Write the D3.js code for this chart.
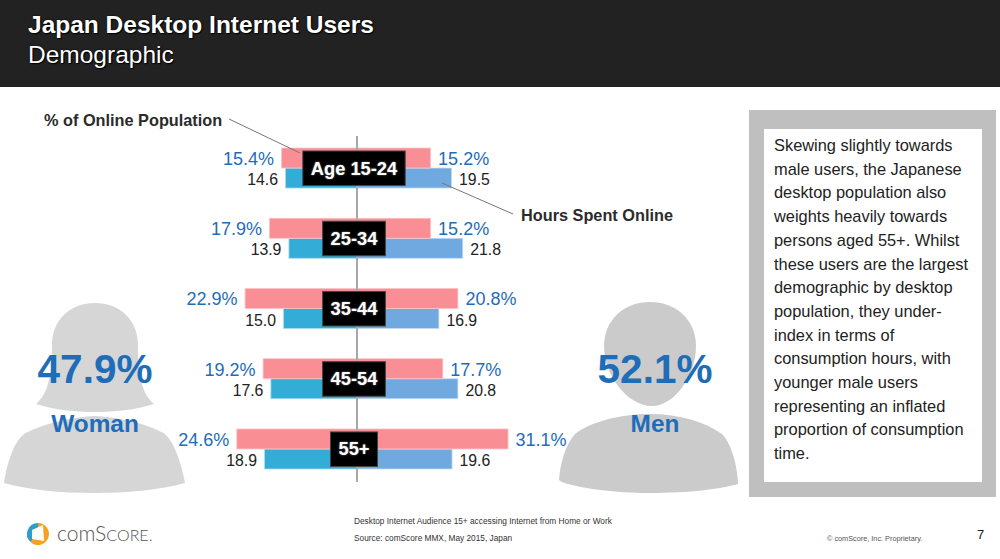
<!DOCTYPE html>
<html>
<head>
<meta charset="utf-8">
<script src="https://cdn.jsdelivr.net/npm/d3@7"></script>
<style>
  html, body { margin: 0; padding: 0; background: #fff; }
  svg { display: block; font-family: "Liberation Sans", Arial, sans-serif; }
</style>
</head>
<body>
<svg id="chart" width="1000" height="559"></svg>
<script>
const ageGroups = ["Age 15-24", "25-34", "35-44", "45-54", "55+"];
const womenShare = [15.4, 17.9, 22.9, 19.2, 24.6];
const menShare = [15.2, 15.2, 20.8, 17.7, 31.1];
const womenHours = [14.6, 13.9, 15.0, 17.6, 18.9];
const menHours = [19.5, 21.8, 16.9, 20.8, 19.6];
const totals = [
  { value: "47.9%", label: "Woman", x: 95 },
  { value: "52.1%", label: "Men", x: 655 }
];
const panelLines = [
  "Skewing slightly towards", "male users, the Japanese", "desktop population also",
  "weights heavily towards", "persons aged 55+. Whilst", "these users are the largest",
  "demographic by desktop", "population, they under-", "index in terms of",
  "consumption hours, with", "younger male users", "representing an inflated",
  "proportion of consumption", "time."
];

const svg = d3.select("#chart");
const mid = 356.6;
const barW = d3.scaleLinear().domain([0, 10]).range([0, 48.7]);
const y = d3.scaleBand().domain(ageGroups).range([148, 469]).paddingInner(0.43).paddingOuter(0);
const rowH = y.bandwidth() / 2;
const titleShadow = "0 0 2px #000, 1px 1px 1px #000";

// header
svg.append("rect").attr("width", 1000).attr("height", 87).attr("fill", "#222");
svg.append("text").attr("x", 28).attr("y", 33).attr("fill", "#fff")
  .style("font-size", "24.5px").style("font-weight", "bold")
  .style("text-shadow", titleShadow).text("Japan Desktop Internet Users");
svg.append("text").attr("x", 28).attr("y", 63).attr("fill", "#fff")
  .style("font-size", "24.5px")
  .style("text-shadow", titleShadow).text("Demographic");

// silhouettes
const people = svg.append("g").attr("class", "people");
people.append("path").attr("fill", "#d6d6d6")
  .attr("d", "M95,303C70,303 52,320 52,345C52,370 50,392 36,404C55,410 75,412 95,412C115,412 135,410 154,404C140,392 138,370 138,345C138,320 120,303 95,303Z");
people.append("path").attr("fill", "#d6d6d6")
  .attr("d", "M95,416C70,417 40,425 24,434C14,442 7,462 4,483C30,490 60,493 95,493C125,493 160,490 185,483C181,462 174,442 165,434C150,425 120,417 95,416Z");
people.append("path").attr("fill", "#cbcbcb")
  .attr("d", "M650,302C624,302 604,320 604,346C604,376 628,406 652,406C674,406 696,376 696,346C696,320 676,302 650,302Z");
people.append("path").attr("fill", "#cbcbcb")
  .attr("d", "M650,414C620,414 590,422 575,434C565,445 560,465 559,480C561,484 600,493 650,493C690,493 720,489 738,484C737,462 730,442 722,434C705,422 680,414 650,414Z");

const totalG = svg.append("g").selectAll("g").data(totals).join("g")
  .attr("text-anchor", "middle").attr("fill", "#1f6cb8").style("font-weight", "bold");
totalG.append("text").attr("x", d => d.x).attr("y", 383).style("font-size", "40.5px").text(d => d.value);
totalG.append("text").attr("x", d => d.x).attr("y", 432).style("font-size", "24.4px").text(d => d.label);

// bars
const bars = svg.append("g").attr("class", "bars");
const addBars = (values, side, top, fill, edge) => {
  bars.selectAll(null).data(values).join("rect")
    .attr("x", d => side < 0 ? mid - barW(d) : mid)
    .attr("y", (d, i) => y(ageGroups[i]) + (top ? 0 : rowH))
    .attr("width", d => barW(d))
    .attr("height", rowH)
    .attr("fill", fill)
    .attr("stroke", edge)
    .attr("stroke-width", 0.8);
};
addBars(womenHours, -1, false, "#33acd8", "#a9dcef");
addBars(menHours, 1, false, "#70a9e0", "#c4dcf3");
addBars(womenShare, -1, true, "#f98e95", "#fcc4c8");
addBars(menShare, 1, true, "#f98e95", "#fcc4c8");

svg.append("line").attr("x1", 357).attr("x2", 357).attr("y1", 136).attr("y2", 482)
  .attr("stroke", "#a8a8a8").attr("stroke-width", 2);

// value labels
const addLabels = (values, side, top, fmt, size, color) => {
  svg.append("g").selectAll("text").data(values).join("text")
    .attr("x", d => mid + side * (barW(d) + 7.5))
    .attr("y", (d, i) => y(ageGroups[i]) + (top ? 17 : rowH + 17))
    .attr("text-anchor", side < 0 ? "end" : "start")
    .attr("fill", color)
    .style("font-size", size)
    .text(fmt);
};
const pct = d => d.toFixed(1) + "%";
const hrs = d => d.toFixed(1);
addLabels(womenShare, -1, true, pct, "18px", "#1f6cb8");
addLabels(menShare, 1, true, pct, "18px", "#1f6cb8");
addLabels(womenHours, -1, false, hrs, "15.8px", "#222");
addLabels(menHours, 1, false, hrs, "15.8px", "#222");

// age tags, box sized off the text
const tags = svg.append("g").selectAll("g").data(ageGroups).join("g");
const tagRect = tags.append("rect").attr("fill", "#000").attr("stroke", "#444").attr("stroke-width", 1);
const tagText = tags.append("text")
  .attr("x", 354)
  .attr("y", d => y(d) + rowH + 6.5)
  .attr("text-anchor", "middle")
  .attr("fill", "#fff")
  .style("font-size", "18.3px")
  .style("font-weight", "bold")
  .style("text-shadow", "0 0 2px #888")
  .text(d => d);
tagRect.each(function (d, i) {
  const w = tagText.nodes()[i].getComputedTextLength() + 16;
  d3.select(this).attr("x", 354 - w / 2).attr("width", w)
    .attr("y", y(d) + 3).attr("height", 34.5);
});

// callouts
svg.append("line").attr("x1", 229).attr("y1", 119).attr("x2", 300).attr("y2", 153)
  .attr("stroke", "#777").attr("stroke-width", 1);
svg.append("line").attr("x1", 442).attr("y1", 183).attr("x2", 513).attr("y2", 214)
  .attr("stroke", "#777").attr("stroke-width", 1);
svg.append("text").attr("x", 44).attr("y", 126).attr("fill", "#2b2b2b")
  .style("font-size", "16.3px").style("font-weight", "bold").text("% of Online Population");
svg.append("text").attr("x", 521).attr("y", 221).attr("fill", "#2b2b2b")
  .style("font-size", "16.3px").style("font-weight", "bold").text("Hours Spent Online");

// side panel
svg.append("rect").attr("x", 749).attr("y", 110).attr("width", 247).attr("height", 387).attr("fill", "#bfbfbf");
svg.append("rect").attr("x", 764).attr("y", 129).attr("width", 218).attr("height", 353).attr("fill", "#fff");
svg.append("g").selectAll("text").data(panelLines).join("text")
  .attr("x", 774)
  .attr("y", (d, i) => 151 + i * 23.7)
  .attr("fill", "#222")
  .style("font-size", "16.4px")
  .text(d => d);

// footer
svg.append("text").attr("x", 354).attr("y", 524).attr("fill", "#333").style("font-size", "8.3px")
  .text("Desktop Internet Audience 15+ accessing Internet from Home or Work");
svg.append("text").attr("x", 354).attr("y", 541).attr("fill", "#333").style("font-size", "8.3px")
  .text("Source: comScore MMX, May 2015, Japan");
svg.append("text").attr("x", 827).attr("y", 541).attr("fill", "#555").style("font-size", "7.3px")
  .text("© comScore, Inc. Proprietary.");
svg.append("text").attr("x", 977).attr("y", 539).attr("fill", "#222").style("font-size", "13px").text("7");

// logo
const logo = svg.append("g").attr("transform", "translate(38,534)");
const arc = d3.arc().innerRadius(4).outerRadius(11);
logo.append("path").attr("fill", "#2f9ccb").attr("d", arc({ startAngle: -2.4, endAngle: 0 }));
logo.append("path").attr("fill", "#f7a11e").attr("d", arc({ startAngle: 0, endAngle: 3.88 }));
logo.append("path").attr("fill", "#fff").attr("d", d3.line()([[-6, -4], [5, -9], [6, 7], [-6, 5]]));
const brand = svg.append("text").attr("x", 57).attr("y", 541).attr("fill", "#555")
  .style("font-family", "Lato, sans-serif").style("font-weight", 300);
brand.append("tspan").style("font-size", "21px").text("com");
brand.append("tspan").style("font-size", "21px").text("S");
brand.append("tspan").style("font-size", "16px").text("CORE.");
</script>
</body>
</html>
